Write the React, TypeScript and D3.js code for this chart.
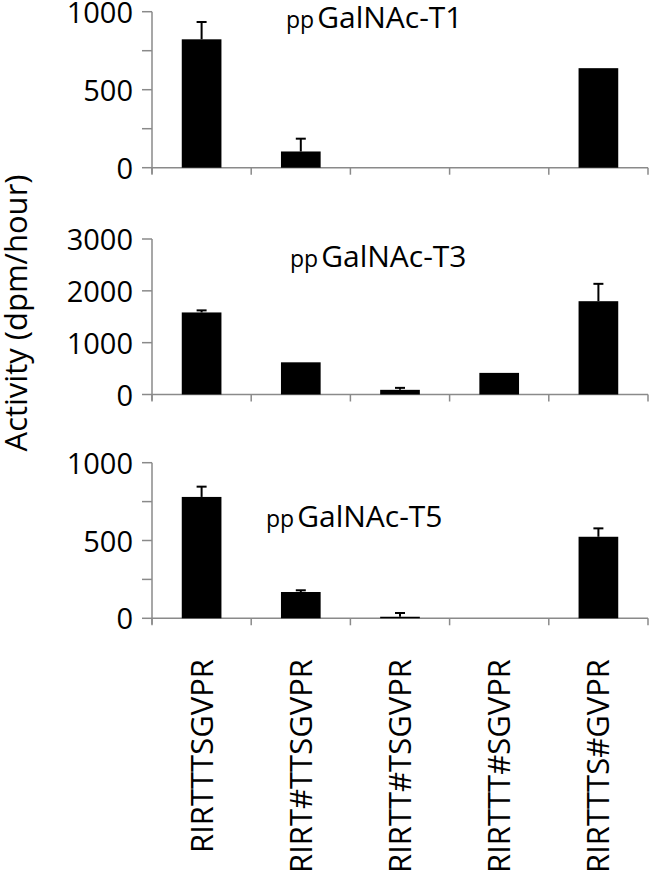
import React, { useEffect, useRef } from "react";
import * as d3 from "d3";

const categories = ["RIRTTTSGVPR", "RIRT#TTSGVPR", "RIRTT#TSGVPR", "RIRTTT#SGVPR", "RIRTTTS#GVPR"];

// ppGalNAc-T1
const t1Values = [823, 104, 0, 0, 638];
const t1Errors = [111, 82, 0, 0, 0];
const t1Ticks = [0, 250, 500, 750, 1000];
const t1TickLabels = [0, 500, 1000];

// ppGalNAc-T3
const t3Values = [1583, 621, 90, 417, 1800];
const t3Errors = [40, 0, 38, 0, 335];
const t3Ticks = [0, 1000, 2000, 3000];
const t3TickLabels = [0, 1000, 2000, 3000];

// ppGalNAc-T5
const t5Values = [780, 169, 10, 0, 524];
const t5Errors = [66, 11, 24, 0, 54];
const t5Ticks = [0, 250, 500, 750, 1000];
const t5TickLabels = [0, 500, 1000];

const enzymes = ["GalNAc-T1", "GalNAc-T3", "GalNAc-T5"];

export default function App() {
  const svgRef = useRef<SVGSVGElement>(null);

  useEffect(() => {
    const svg = d3.select(svgRef.current);
    const width = 650;
    const height = 874;
    svg.attr("width", width).attr("height", height);
    svg.selectAll("*").remove();

    const font = "'Open Sans', 'Noto Sans', sans-serif";
    const axisColor = "#8a8a8a";

    const x = d3.scaleBand().domain(categories).range([152, 648]).paddingInner(0).paddingOuter(0);
    const barW = x.bandwidth() * 0.4;

    const panels = [
      { values: t1Values, errors: t1Errors, ticks: t1Ticks, labels: t1TickLabels, max: 1000, top: 11.7, bottom: 167.7, titleX: 286, titleY: 28 },
      { values: t3Values, errors: t3Errors, ticks: t3Ticks, labels: t3TickLabels, max: 3000, top: 239, bottom: 394.5, titleX: 290, titleY: 267 },
      { values: t5Values, errors: t5Errors, ticks: t5Ticks, labels: t5TickLabels, max: 1000, top: 462.7, bottom: 618.3, titleX: 266, titleY: 527 },
    ];

    panels.forEach((p, pi) => {
      const y = d3.scaleLinear().domain([0, p.max]).range([p.bottom, p.top]);
      const g = svg.append("g");

      // y axis line + ticks
      g.append("line")
        .attr("x1", x.range()[0]).attr("x2", x.range()[0])
        .attr("y1", y(p.max)).attr("y2", y(0) + 6)
        .attr("stroke", axisColor).attr("stroke-width", 1.5);
      g.selectAll(".ytick")
        .data(p.ticks)
        .join("line")
        .attr("x1", x.range()[0] - 10).attr("x2", x.range()[0])
        .attr("y1", (d) => y(d)).attr("y2", (d) => y(d))
        .attr("stroke", axisColor).attr("stroke-width", 1.5);
      g.selectAll(".ylabel")
        .data(p.labels)
        .join("text")
        .attr("x", x.range()[0] - 19)
        .attr("y", (d) => y(d) + 11)
        .attr("text-anchor", "end")
        .style("font-family", font)
        .style("font-size", "29px")
        .attr("fill", "#000")
        .text((d) => d);

      // x axis line + ticks at category boundaries
      g.append("line")
        .attr("x1", x.range()[0]).attr("x2", x.range()[1])
        .attr("y1", y(0)).attr("y2", y(0))
        .attr("stroke", axisColor).attr("stroke-width", 1.5);
      const bounds = [...categories.map((c) => x(c)!), x.range()[1]];
      g.selectAll(".xtick")
        .data(bounds)
        .join("line")
        .attr("x1", (d) => d).attr("x2", (d) => d)
        .attr("y1", y(0)).attr("y2", y(0) + 7)
        .attr("stroke", axisColor).attr("stroke-width", 1.5);

      // bars
      g.selectAll(".bar")
        .data(p.values)
        .join("rect")
        .attr("x", (d, i) => x(categories[i])! + x.bandwidth() / 2 - barW / 2)
        .attr("y", (d) => y(d))
        .attr("width", barW)
        .attr("height", (d) => y(0) - y(d))
        .attr("fill", "#000");

      // error bars (upper only)
      const errs = p.values.map((v, i) => ({ v, e: p.errors[i], c: categories[i] })).filter((d) => d.e > 0);
      g.selectAll(".err")
        .data(errs)
        .join("line")
        .attr("x1", (d) => x(d.c)! + x.bandwidth() / 2)
        .attr("x2", (d) => x(d.c)! + x.bandwidth() / 2)
        .attr("y1", (d) => y(d.v))
        .attr("y2", (d) => y(d.v + d.e))
        .attr("stroke", "#000").attr("stroke-width", 2);
      g.selectAll(".cap")
        .data(errs)
        .join("line")
        .attr("x1", (d) => x(d.c)! + x.bandwidth() / 2 - 5)
        .attr("x2", (d) => x(d.c)! + x.bandwidth() / 2 + 5)
        .attr("y1", (d) => y(d.v + d.e))
        .attr("y2", (d) => y(d.v + d.e))
        .attr("stroke", "#000").attr("stroke-width", 2);

      // title
      const t = g.append("text")
        .attr("x", p.titleX).attr("y", p.titleY)
        .style("font-family", font)
        .attr("fill", "#000");
      t.append("tspan").style("font-size", "23px").text("pp");
      t.append("tspan").attr("dx", 3).style("font-size", "30px").text(enzymes[pi]);
    });

    // category labels
    svg.append("g")
      .selectAll("text")
      .data(categories)
      .join("text")
      .attr("transform", (d) => `translate(${x(d)! + x.bandwidth() / 2 + 11},659) rotate(-90)`)
      .attr("text-anchor", "end")
      .style("font-family", font)
      .style("font-size", "31px")
      .attr("fill", "#000")
      .text((d) => d);

    // y title
    svg.append("text")
      .attr("transform", "translate(27,313) rotate(-90)")
      .attr("text-anchor", "middle")
      .style("font-family", font)
      .style("font-size", "31px")
      .attr("fill", "#000")
      .text("Activity (dpm/hour)");
  }, []);

  return <svg ref={svgRef} style={{ position: "absolute", left: 0, top: 0 }}></svg>;
}
